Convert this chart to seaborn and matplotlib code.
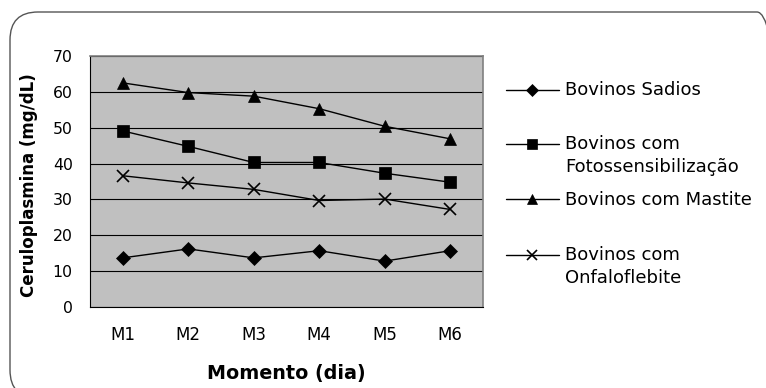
import matplotlib
matplotlib.use("Agg")
import matplotlib.pyplot as plt
from matplotlib.lines import Line2D
from matplotlib.patches import FancyBboxPatch
import seaborn as sns
import pandas as pd

# ---- data ----
momentos = ["M1", "M2", "M3", "M4", "M5", "M6"]
grupos = ["Bovinos Sadios", "Bovinos com Fotossensibilização",
          "Bovinos com Mastite", "Bovinos com Onfaloflebite"]
legend_labels = ["Bovinos Sadios", "Bovinos com\nFotossensibilização",
                 "Bovinos com Mastite", "Bovinos com\nOnfaloflebite"]
sadios = [13.7, 16.2, 13.7, 15.7, 12.8, 15.7]
fotossensibilizacao = [49.1, 44.8, 40.3, 40.3, 37.3, 34.8]
mastite = [62.5, 59.8, 58.8, 55.3, 50.4, 46.9]
onfaloflebite = [36.6, 34.6, 32.8, 29.7, 30.1, 27.2]
y_ticks = [0, 10, 20, 30, 40, 50, 60, 70]

series = [sadios, fotossensibilizacao, mastite, onfaloflebite]
df = pd.DataFrame({
    "Momento": momentos * 4,
    "Grupo": [g for g in grupos for _ in momentos],
    "Valor": [v for s in series for v in s],
})

sns.set_style("white")
plt.rcParams["font.family"] = ["DejaVu Sans"]
plt.rcParams.update({"text.color": "black", "axes.labelcolor": "black",
                     "xtick.color": "black", "ytick.color": "black"})

W, H = 766, 388
fig = plt.figure(figsize=(W / 100, H / 100), dpi=100)
ax = fig.add_axes([90 / W, 81 / H, 393 / W, 251 / H])
ax.set_facecolor("#C0C0C0")

markers = {grupos[0]: "D", grupos[1]: "s", grupos[2]: "^", grupos[3]: "x"}
sizes = {"D": 7, "s": 8, "^": 9, "x": 8.5}
for g in grupos:
    sub = df[df["Grupo"] == g]
    m = markers[g]
    sns.lineplot(data=sub, x="Momento", y="Valor", ax=ax, color="black",
                 marker=m, markersize=sizes[m], markeredgecolor="black",
                 markerfacecolor="black", markeredgewidth=1.2 if m == "x" else 0.5,
                 linewidth=1.0, sort=False, legend=False, zorder=3)

ax.set_xlim(-0.5, 5.5)
ax.set_ylim(0, 70)
ax.set_yticks(y_ticks)
ax.set_xticks(range(len(momentos)))
ax.set_xticklabels(momentos)
ax.set_xticks([i - 0.5 for i in range(len(momentos) + 1)], minor=True)
ax.tick_params(axis="x", which="major", length=0, pad=13.5, labelsize=12,
               labelcolor="black")
ax.tick_params(axis="x", which="minor", length=5, width=0.8, color="black", direction="out")
ax.tick_params(axis="y", which="major", length=5, width=0.8, color="black",
               direction="out", pad=7.5, labelsize=11.3, labelcolor="black")
ax.grid(axis="y", color="black", linewidth=0.8, zorder=1)
ax.grid(axis="x", visible=False)
ax.set_axisbelow(True)
for side in ["top", "right"]:
    ax.spines[side].set_color("#808080")
    ax.spines[side].set_linewidth(1.2)
for side in ["left", "bottom"]:
    ax.spines[side].set_color("black")
    ax.spines[side].set_linewidth(0.8)

ax.set_xlabel("Momento (dia)", fontsize=13.8, fontweight="bold", color="black")
ax.xaxis.set_label_coords(0.5, (307 - 373) / 251)
ax.xaxis.label.set_va("center")
ax.set_ylabel("Ceruloplasmina (mg/dL)", fontsize=12, fontweight="bold", color="black")
ax.yaxis.set_label_coords((29 - 90) / 393, (307 - 185) / 251)
ax.yaxis.label.set_va("center")

# ---- legend (right side) ----
entry_base = [95, 149.3, 205, 260]
line_pitch = 23
leg_markers = ["D", "s", "^", "x"]
leg_sizes = {"D": 6, "s": 6.5, "^": 7.5, "x": 7}
for lab, base, m in zip(legend_labels, entry_base, leg_markers):
    yh = base - 5.5
    fig.add_artist(Line2D([506 / W, 559 / W], [1 - yh / H, 1 - yh / H],
                          transform=fig.transFigure, color="black", linewidth=1.0))
    fig.add_artist(Line2D([532 / W], [1 - yh / H], transform=fig.transFigure,
                          marker=m, markersize=leg_sizes[m], color="black",
                          markeredgewidth=1.2 if m == "x" else 0.5, linestyle="none"))
    for k, line in enumerate(lab.split("\n")):
        fig.text(565 / W, 1 - (base + k * line_pitch) / H, line,
                 fontsize=13, va="baseline", ha="left", color="black")

# rounded outer border
fig.add_artist(FancyBboxPatch((10 / 100, -0.1), 7.75, (H - 12) / 100 + 0.1,
                              boxstyle="round,pad=0,rounding_size=0.28",
                              transform=fig.dpi_scale_trans, facecolor="none",
                              edgecolor="#555555", linewidth=1.0, clip_on=False))

fig.savefig("out.png", dpi=100)
